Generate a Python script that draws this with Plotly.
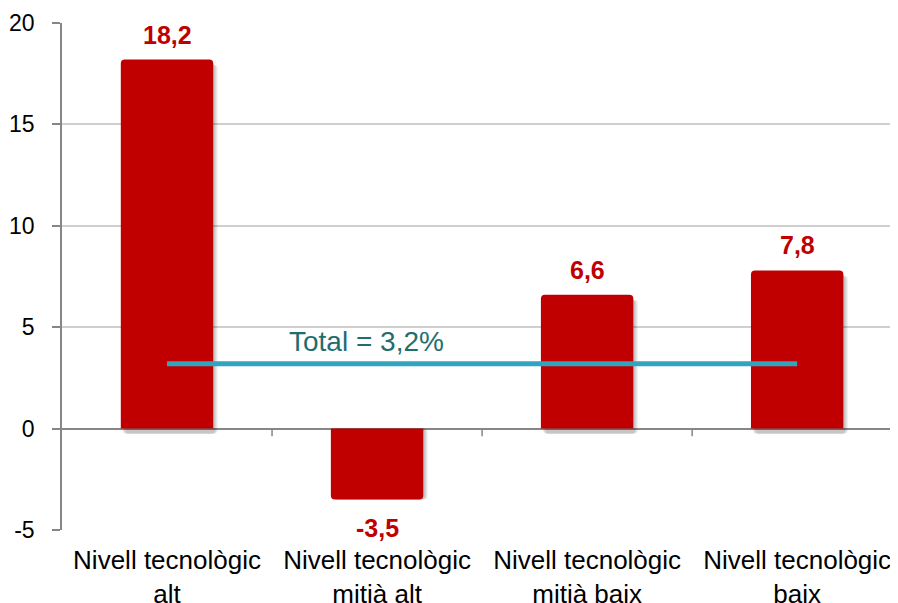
import plotly.graph_objects as go

categories = ["Nivell tecnològic<br>alt", "Nivell tecnològic<br>mitjà alt",
              "Nivell tecnològic<br>mitjà baix", "Nivell tecnològic<br>baix"]
values = [18.2, -3.5, 6.6, 7.8]
total_value = 3.2
total_label = "Total = 3,2%"
y_ticks = [-5, 0, 5, 10, 15, 20]
y_ticktext = ["-5", "0", "5", "10", "15", "20"]

FONT = "Arial, Liberation Sans, sans-serif"
RED = "#C00000"
BAR_W = 0.44

fig = go.Figure()

# soft shadow behind bars
for dx, alpha in [(0.022, 0.06), (0.016, 0.08), (0.010, 0.10)]:
    fig.add_trace(go.Bar(
        x=categories, y=values, width=BAR_W, offset=-BAR_W / 2 + dx,
        base=[-0.25 if v > 0 else 0.0 for v in values],
        marker=dict(color=f"rgba(0,0,0,{alpha})", line=dict(width=0), cornerradius=4),
        hoverinfo="skip", showlegend=False,
    ))

fig.add_trace(go.Bar(
    x=categories, y=values, width=BAR_W, offset=-BAR_W / 2,
    marker=dict(color=RED, line=dict(width=0), cornerradius=4),
    showlegend=False,
))

# value labels
for c, v in zip(categories, values):
    fig.add_annotation(
        x=c, y=v, xref="x", yref="y", text=f"{v:.1f}".replace(".", ","),
        showarrow=False, yanchor="bottom" if v > 0 else "top",
        yshift=9 if v > 0 else -12,
        font=dict(family=FONT, size=25, color=RED, weight="bold"),
    )

fig.add_trace(go.Scatter(
    x=[categories[0], categories[-1]], y=[total_value, total_value],
    mode="lines", line=dict(color="#31A5C0", width=5), showlegend=False,
))

fig.add_annotation(
    x=0.95, y=total_value, xref="x", yref="y", text=total_label, showarrow=False,
    yshift=22, font=dict(family=FONT, size=28, color="#1F6E6E"),
)

# small tick marks on the zero line between categories
for b in [0.5, 1.5, 2.5]:
    fig.add_shape(type="line", xref="x", yref="y", x0=b, x1=b, y0=0, y1=-0.38,
                  line=dict(color="#868686", width=1.5))

fig.update_layout(
    width=898, height=603,
    margin=dict(l=54, r=8, t=15, b=81, autoexpand=False),
    plot_bgcolor="white", paper_bgcolor="white",
    separators=",.",
    barmode="overlay",
    font=dict(family=FONT, size=23, color="black"),
    xaxis=dict(range=[-0.5, 3.48], showgrid=False, showline=False, ticks="",
               automargin=False,
               tickfont=dict(size=26, color="black"), ticklabelstandoff=12),
    yaxis=dict(range=[-5, 20], tickvals=y_ticks, ticktext=y_ticktext, showgrid=True,
               gridcolor="#CFCFCF", automargin=False,
               gridwidth=1.5, showline=True, linecolor="#868686", linewidth=1.5,
               ticks="outside", ticklen=8, tickcolor="#868686", tickwidth=1.5,
               zeroline=True, zerolinecolor="#868686", zerolinewidth=1.5,
               tickfont=dict(size=23, color="black"), ticklabelstandoff=13),
)

fig.write_html("out.html")
